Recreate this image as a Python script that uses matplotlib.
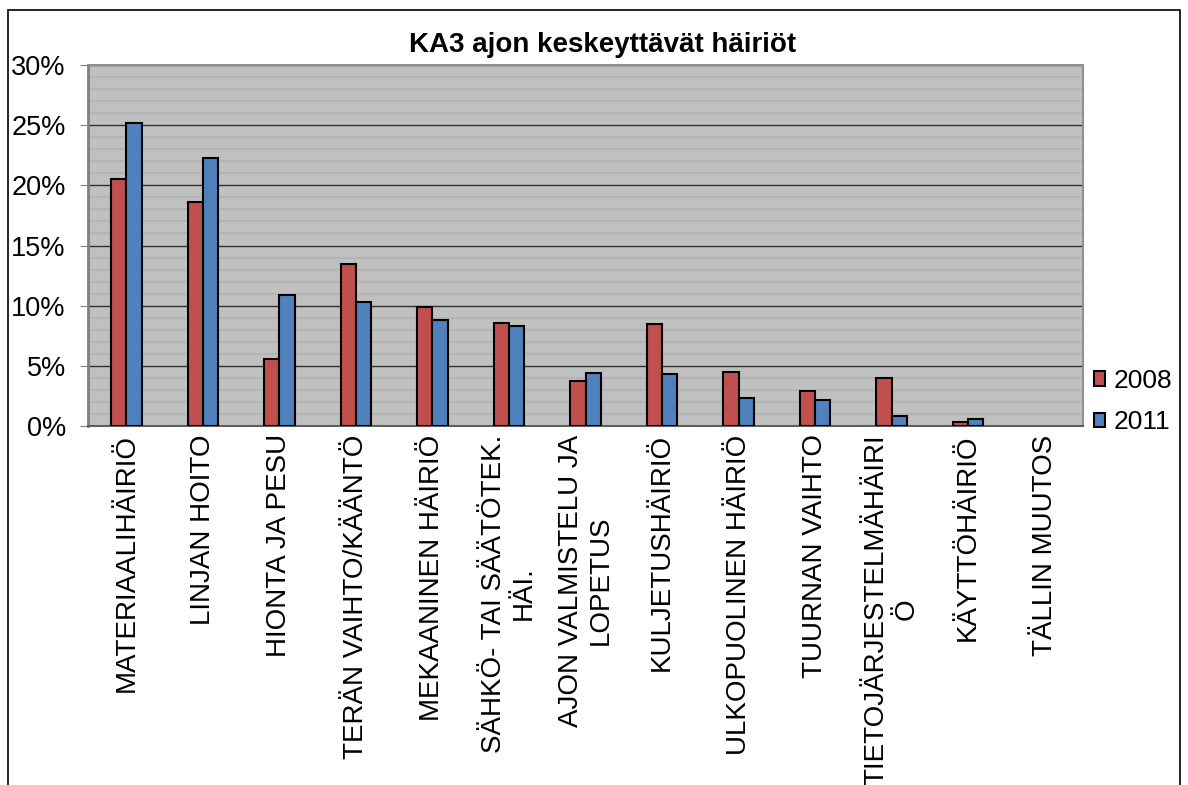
import numpy as np
import matplotlib
matplotlib.use("Agg")
import matplotlib.pyplot as plt
from matplotlib.patches import Rectangle
from matplotlib.ticker import MultipleLocator, PercentFormatter

plt.rcParams["font.family"] = ["Liberation Sans", "DejaVu Sans"]

categories = [
    "MATERIAALIHÄIRIÖ",
    "LINJAN HOITO",
    "HIONTA JA PESU",
    "TERÄN VAIHTO/KÄÄNTÖ",
    "MEKAANINEN HÄIRIÖ",
    "SÄHKÖ- TAI SÄÄTÖTEK.\nHÄI.",
    "AJON VALMISTELU JA\nLOPETUS",
    "KULJETUSHÄIRIÖ",
    "ULKOPUOLINEN HÄIRIÖ",
    "TUURNAN VAIHTO",
    "TIETOJÄRJESTELMÄHÄIRI\nÖ",
    "KÄYTTÖHÄIRIÖ",
    "TÄLLIN MUUTOS",
]
values_2008 = [20.5, 18.6, 5.6, 13.5, 9.9, 8.6, 3.7, 8.5, 4.5, 2.9, 4.0, 0.3, 0.0]
values_2011 = [25.2, 22.3, 10.9, 10.3, 8.8, 8.3, 4.4, 4.3, 2.3, 2.2, 0.8, 0.6, 0.0]
series_names = ["2008", "2011"]

fig = plt.figure(figsize=(11.88, 7.85), dpi=100)
ax = fig.add_axes([0.0741, 0.4573, 0.9116 - 0.0741, 0.9172 - 0.4573])

# outer chart border (bottom edge is cut off in the original)
fig.patches.append(Rectangle((0.007, -0.05), 0.986, 1.037, transform=fig.transFigure,
                             fill=False, edgecolor="black", linewidth=1.2))

x = np.arange(len(categories))
w = 0.2
# zero-height bars draw no outline
lw08 = [1.5 if v > 0 else 0 for v in values_2008]
lw11 = [1.5 if v > 0 else 0 for v in values_2011]
ax.bar(x - w / 2, values_2008, w, color="#C0504D", edgecolor="black", linewidth=lw08,
       label=series_names[0], zorder=3)
ax.bar(x + w / 2, values_2011, w, color="#4F81BD", edgecolor="black", linewidth=lw11,
       label=series_names[1], zorder=3)

ax.set_facecolor("#C0C0C0")
ax.set_xlim(-0.5, len(categories) - 0.5)
ax.set_ylim(0, 30)
ax.yaxis.set_major_locator(MultipleLocator(5))
ax.yaxis.set_minor_locator(MultipleLocator(1))
ax.yaxis.set_major_formatter(PercentFormatter(decimals=0))
ax.grid(axis="y", which="major", color="#303030", linewidth=1.0, zorder=1)
ax.grid(axis="y", which="minor", color="#B4B4B4", linewidth=1.5, zorder=0)
ax.set_axisbelow(True)

for s in ["top", "right"]:
    ax.spines[s].set_color("#909090")
    ax.spines[s].set_linewidth(1.5)
ax.spines["left"].set_color("#808080")
ax.spines["left"].set_linewidth(2)
ax.spines["bottom"].set_color("#606060")
ax.spines["bottom"].set_linewidth(1.5)

ax.tick_params(axis="y", which="major", length=6, color="#808080", labelsize=19.5, pad=10)
ax.tick_params(axis="y", which="minor", length=0)
ax.tick_params(axis="x", length=0, pad=6)
ax.set_xticks(x)
ax.set_xticklabels(categories, rotation=90, fontsize=20, ha="center", va="top",
                   multialignment="center")

fig.text(0.507, 0.943, "KA3 ajon keskeyttävät häiriöt", ha="center", va="center",
         fontsize=20, fontweight="bold")

leg = ax.legend(loc="center left", bbox_to_anchor=(1.0, 0.068), frameon=False,
                fontsize=19, handlelength=0.45, handleheight=0.45, handletextpad=0.3,
                labelspacing=0.65, borderaxespad=0, borderpad=0.4)

fig.savefig("out.png", dpi=100)
